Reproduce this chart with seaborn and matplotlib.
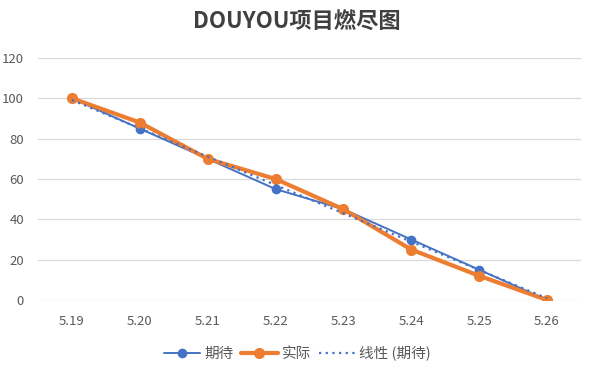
import matplotlib
matplotlib.use("Agg")
import matplotlib.pyplot as plt
import seaborn as sns
import pandas as pd
import numpy as np

dates = ["5.19", "5.20", "5.21", "5.22", "5.23", "5.24", "5.25", "5.26"]
expected = [100, 85, 70, 55, 45, 30, 15, 0]
actual = [100, 88, 70, 60, 45, 25, 12, 0]
y_ticks = [0, 20, 40, 60, 80, 100, 120]

sns.set_style("white")
plt.rcParams['font.family'] = ['Noto Sans CJK SC', 'DejaVu Sans']

blue = "#4472C4"
orange = "#ED7D31"

df = pd.DataFrame({"x": np.arange(len(dates)), "期待": expected, "实际": actual})

fig = plt.figure(figsize=(5.94, 3.74), dpi=100)
ax = fig.add_axes([38/594, 74/374, 543/594, 242/374])

sns.lineplot(data=df, x="x", y="期待", ax=ax, color=blue, linewidth=1.4,
             marker="o", markersize=7, markeredgewidth=0, label="期待")
sns.lineplot(data=df, x="x", y="实际", ax=ax, color=orange, linewidth=3,
             marker="o", markersize=8, markeredgewidth=0, label="实际")
# Excel-style linear trend of the expected series
sns.regplot(data=df, x="x", y="期待", ax=ax, scatter=False, ci=None, truncate=True,
            line_kws={"color": blue, "linestyle": (0, (1, 2)), "linewidth": 1.6},
            label="线性 (期待)")

ax.set_xlim(-0.5, len(dates) - 0.5)
ax.set_ylim(0, 120)
ax.set_xticks(range(len(dates)))
ax.set_xticklabels(dates)
ax.set_yticks(y_ticks)
ax.set_xlabel("")
ax.set_ylabel("")
ax.grid(axis="y", color="#D9D9D9", linewidth=0.9)
ax.set_axisbelow(True)
for s in ax.spines.values():
    s.set_visible(False)
ax.tick_params(axis="both", length=0, labelsize=9.5, labelcolor="#595959")
ax.tick_params(axis="x", pad=11)
ax.tick_params(axis="y", pad=10)

fig.suptitle("DOUYOU项目燃尽图", x=0.5, y=0.972, fontsize=16, fontweight="bold",
             color="#404040")

h, l = ax.get_legend_handles_labels()
ax.legend(h, l, loc="center", bbox_to_anchor=(0.478, -0.22), ncol=3, frameon=False,
          fontsize=10.5, labelcolor="#595959", handlelength=2.5, columnspacing=0.5,
          handletextpad=0.3)

fig.savefig("out.png", dpi=100)
